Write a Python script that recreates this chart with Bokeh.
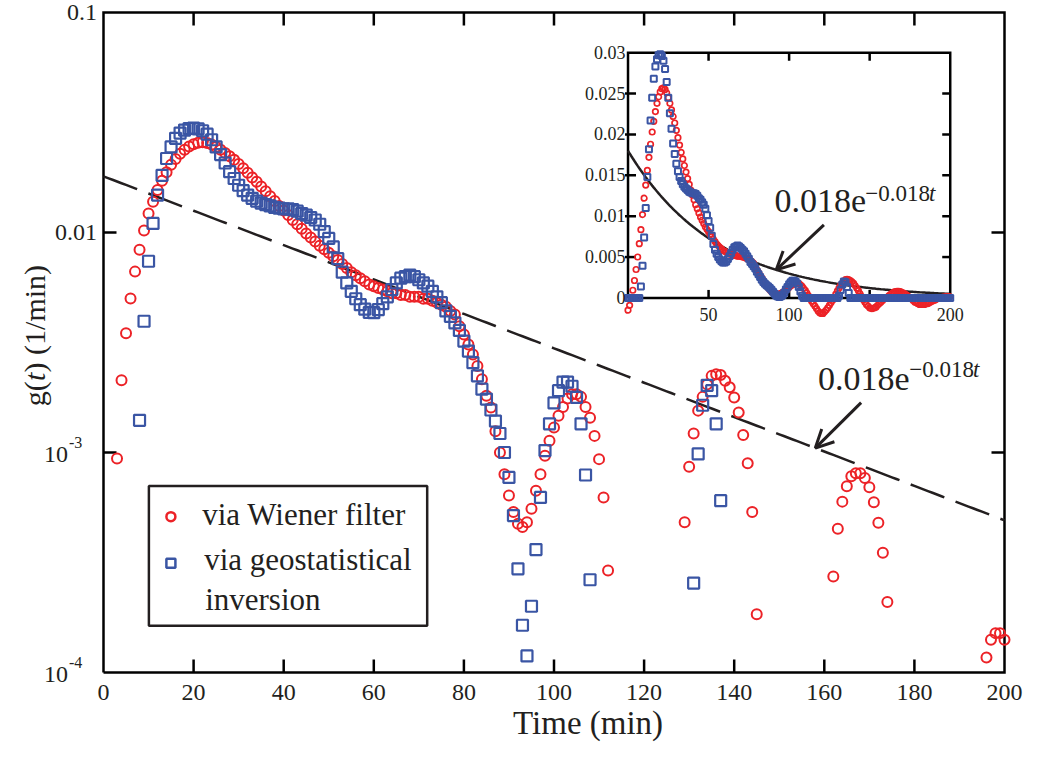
import numpy as np
from bokeh.plotting import figure
from bokeh.models import Range1d, LinearScale, LogScale, Label, Arrow, OpenHead, BoxAnnotation
from bokeh.embed import file_html
from bokeh.resources import INLINE

# ---------------- data ----------------
time_min = list(range(0, 201))

g_wiener = [
    -0.0015, -0.0009, 0.00008, 0.00094, 0.00213, 0.00348, 0.00501, 0.00664, 0.00835, 0.0102,
    0.0122, 0.0138, 0.0156, 0.0172, 0.0188, 0.0203, 0.0216, 0.0228, 0.0238, 0.0246,
    0.0252, 0.0256, 0.0257, 0.0255, 0.0251, 0.0245, 0.0238, 0.0230, 0.0222, 0.0214,
    0.0205, 0.0196, 0.0187, 0.0178, 0.0170, 0.0162, 0.0154, 0.0146, 0.0139, 0.0132,
    0.0126, 0.0120, 0.0114, 0.0109, 0.0104, 0.0099, 0.0095, 0.0091, 0.0087, 0.0084,
    0.0081, 0.0078, 0.0075, 0.0072, 0.0069, 0.0066, 0.0064, 0.0062, 0.0060, 0.0058,
    0.0057, 0.0056, 0.0055, 0.0054, 0.0053, 0.0053, 0.0052, 0.0052, 0.0051, 0.0051,
    0.0051, 0.0050, 0.0050, 0.0049, 0.0048, 0.0047, 0.0046, 0.0044, 0.00424, 0.00375,
    0.00344, 0.00310, 0.00279, 0.00247, 0.00215, 0.00181, 0.00160, 0.00125, 0.00100, 0.000797,
    0.000637, 0.000536, 0.000474, 0.000458, 0.000482, 0.000555, 0.00067, 0.000797, 0.000966, 0.00113,
    0.00130, 0.00147, 0.00161, 0.00176, 0.00184, 0.00184, 0.00179, 0.00161, 0.00144, 0.00119,
    0.000933, 0.000625, 0.000291, -0.0001, -0.0004, -0.0007, -0.0010, -0.0013, -0.0016, -0.0018,
    -0.0019, -0.0019, -0.0017, -0.0015, -0.0012, -0.0009, -0.0006, -0.0003, 0.00006, 0.000482,
    0.000861, 0.00122, 0.00155, 0.00179, 0.00204, 0.00223, 0.00227, 0.00225, 0.00212, 0.00198,
    0.00178, 0.00152, 0.00120, 0.000893, 0.000536, 0.000184, -0.0002, -0.0005, -0.0008, -0.0010,
    -0.0012, -0.0013, -0.0013, -0.0012, -0.0011, -0.0009, -0.0007, -0.0005, -0.0003, -0.0001,
    0.00002, 0.00008, 0.000273, 0.00045, 0.000598, 0.000702, 0.000779, 0.000804, 0.000804, 0.000765,
    0.000695, 0.000594, 0.000479, 0.00035, 0.000209, 0.00006, -0.0001, -0.0003, -0.0005, -0.0006,
    -0.0007, -0.0008, -0.0008, -0.0008, -0.0008, -0.0007, -0.0007, -0.0006, -0.0005, -0.0004,
    -0.0003, -0.0002, -0.0001, -0.00003, 0.00004, 0.00008, 0.000117, 0.000141, 0.000151, 0.000151,
    0.000141,
]

g_geostat = [
    0.0, 0.0, 0.0, 0.0, 0.0, 0.0, 0.0, 0.0, 0.0014, 0.00395,
    0.0074, 0.0110, 0.0148, 0.0182, 0.0217, 0.0245, 0.0268, 0.0283, 0.0292, 0.0297,
    0.0298, 0.0296, 0.0290, 0.0280, 0.0264, 0.0245, 0.0226, 0.0207, 0.0189, 0.0176,
    0.0164, 0.0155, 0.0148, 0.0143, 0.0139, 0.0136, 0.0134, 0.0132, 0.0130, 0.0129,
    0.0128, 0.0128, 0.0127, 0.0125, 0.0122, 0.0120, 0.0117, 0.0114, 0.0109, 0.0101,
    0.0094, 0.0086, 0.0076, 0.0066, 0.0059, 0.0054, 0.0050, 0.0047, 0.00448, 0.00433,
    0.00432, 0.00446, 0.00475, 0.0051, 0.0055, 0.0059, 0.0062, 0.0063, 0.0064, 0.0063,
    0.0061, 0.0059, 0.0057, 0.0054, 0.0051, 0.0048, 0.0044, 0.00416, 0.00388, 0.00359,
    0.00321, 0.00289, 0.00256, 0.00223, 0.00194, 0.00175, 0.00156, 0.00139, 0.00122, 0.00100,
    0.00077, 0.000517, 0.000296, 0.000164, 0.000119, 0.000200, 0.000362, 0.000625, 0.00102, 0.00135,
    0.00168, 0.00191, 0.00209, 0.00209, 0.00200, 0.00178, 0.00135, 0.00079, 0.000264, 0.0,
    0.0, 0.0, 0.0, 0.0, 0.0, 0.0, 0.0, 0.0, 0.0, 0.0,
    0.0, 0.0, 0.0, 0.0, 0.0, 0.0, 0.0, 0.0, 0.0, 0.0,
    0.0, 0.000255, 0.000985, 0.00164, 0.00202, 0.00191, 0.00135, 0.000604, 0.0, 0.0,
    0.0, 0.0, 0.0, 0.0, 0.0, 0.0, 0.0, 0.0, 0.0, 0.0,
    0.0, 0.0, 0.0, 0.0, 0.0, 0.0, 0.0, 0.0, 0.0, 0.0,
    0.0, 0.0, 0.0, 0.0, 0.0, 0.0, 0.0, 0.0, 0.0, 0.0,
    0.0, 0.0, 0.0, 0.0, 0.0, 0.0, 0.0, 0.0, 0.0, 0.0,
    0.0, 0.0, 0.0, 0.0, 0.0, 0.0, 0.0, 0.0, 0.0, 0.0,
    0.0, 0.0, 0.0, 0.0, 0.0, 0.0, 0.0, 0.0, 0.0, 0.0,
    0.0,
]

fit_amp = 0.018
fit_rate = 0.018
fit_label_main = "0.018e"
fit_label_exp = "\u22120.018"
fit_label_var = "t"

x_ticks = [0, 20, 40, 60, 80, 100, 120, 140, 160, 180, 200]
x_tick_labels = ["0", "20", "40", "60", "80", "100", "120", "140", "160", "180", "200"]
y_ticks = [1e-4, 1e-3, 1e-2, 1e-1]
y_decimal_ticks = [1e-2, 1e-1]
y_decimal_labels = ["0.01", "0.1"]
y_power_ticks = [1e-4, 1e-3]
y_power_exps = ["-4", "-3"]

inset_x_ticks = [50, 100, 150, 200]
inset_x_label_ticks = [50, 100, 200]
inset_x_labels = ["50", "100", "200"]
inset_y_ticks = [0, 0.005, 0.01, 0.015, 0.02, 0.025, 0.03]
inset_y_labels = ["0", "0.005", "0.01", "0.015", "0.02", "0.025", "0.03"]

legend_labels = ["via Wiener filter", "via geostatistical", "inversion"]

# ---------------- styling / layout (pixel geometry) ----------------
RED = "#EC2227"
BLUE = "#3A55A4"
INK = "#231F20"
FONT = "Liberation Serif"
BL_SHIFT = 0.36          # renderer draws alphabetic baselines ~0.36 em lower; compensate

W, H = 1024, 742

# reference layout (px) mapped onto this canvas
RFL, RFR, RFT, RFB = 105.0, 1018.0, 17.0, 679.0
FL, FR, FT, FB = 103.0, 1004.0, 12.0, 672.0


def RX(px):
    return FL + (px - RFL) * (FR - FL) / (RFR - RFL)


def RY(py):
    return FT + (py - RFT) * (FB - FT) / (RFB - RFT)


IL, IR, IT, I0 = RX(636.5), RX(963.0), RY(57.3), RY(303.3)   # inset box (I0 = y of zero)

X0, X1 = x_ticks[0], x_ticks[-1]
Y0, Y1 = y_ticks[0], y_ticks[-1]
PXM = (FR - FL) / (X1 - X0)
DEC = (FB - FT) / np.log10(Y1 / Y0)


def mx(px):
    return X0 + (px - FL) / PXM


def my(py):
    return Y1 * 10 ** (-(py - FT) / DEC)


def ypx(v):
    return FT + np.log10(Y1 / v) * DEC


def bmy(py, size):
    """data y for a text whose alphabetic baseline should sit at canvas py"""
    return my(py - BL_SHIFT * size)


IX1 = inset_x_ticks[-1]
IY1 = inset_y_ticks[-1]
SX = (IR - IL) / IX1
SY = (I0 - IT) / IY1


def ix(px):
    return (px - IL) / SX


def iy(py):
    return (I0 - py) / SY


def biy(py, size):
    return iy(py - BL_SHIFT * size)


p = figure(width=W, height=H, x_range=Range1d(mx(0), mx(W)), y_range=Range1d(my(H), my(0)),
           y_axis_type="log", x_axis_location=None, y_axis_location=None,
           output_backend="svg", toolbar_location=None,
           min_border_left=0, min_border_right=0, min_border_top=0, min_border_bottom=0,
           background_fill_color="white", border_fill_color="white")
p.y_scale = LogScale()
p.outline_line_color = None
p.grid.visible = False

p.extra_x_ranges = {"ix": Range1d(ix(0), ix(W))}
p.extra_y_ranges = {"iy": Range1d(iy(H), iy(0))}
p.extra_x_scales = {"ix": LinearScale()}
p.extra_y_scales = {"iy": LinearScale()}

LW = 2.5
TK = 13.0

# ---------------- main axes box, ticks, tick labels ----------------
p.line([X0, X1, X1, X0, X0], [Y0, Y0, Y1, Y1, Y0], line_color="black", line_width=LW,
       line_join="miter")
xt = np.array(x_ticks[1:-1], dtype=float)
p.segment(xt, np.full_like(xt, Y0), xt, np.full_like(xt, Y0 * 10 ** (TK / DEC)),
          line_color="black", line_width=LW)
p.segment(xt, np.full_like(xt, Y1), xt, np.full_like(xt, Y1 * 10 ** (-TK / DEC)),
          line_color="black", line_width=LW)
yt = np.array(y_ticks[1:-1], dtype=float)
p.segment(np.full_like(yt, X0), yt, np.full_like(yt, X0 + TK / PXM), yt,
          line_color="black", line_width=LW)
p.segment(np.full_like(yt, X1), yt, np.full_like(yt, X1 - TK / PXM), yt,
          line_color="black", line_width=LW)

for v, s in zip(x_ticks, x_tick_labels):
    p.add_layout(Label(x=v, y=bmy(RY(708), 24), text=s, text_align="center",
                       text_baseline="alphabetic", text_font=FONT,
                       text_font_size="24px", text_color=INK))

for v, s in zip(y_decimal_ticks, y_decimal_labels):
    p.add_layout(Label(x=mx(RX(98.5)), y=bmy(ypx(v) + 8.5, 24), text=s, text_align="right",
                       text_baseline="alphabetic", text_font=FONT, text_font_size="24px",
                       text_color=INK))
for v, s in zip(y_power_ticks, y_power_exps):
    p.add_layout(Label(x=mx(RX(69)), y=bmy(ypx(v) + 10.5, 24), text="10",
                       text_align="right", text_baseline="alphabetic", text_font=FONT,
                       text_font_size="24px", text_color=INK))
    p.add_layout(Label(x=mx(RX(70)), y=bmy(ypx(v) - 4, 16), text=s, text_align="left",
                       text_baseline="alphabetic", text_font=FONT, text_font_size="16px",
                       text_color=INK))

# axis titles
p.add_layout(Label(x=mx(RX(520)), y=bmy(734, 33), text="Time (min)", text_align="left",
                   text_baseline="alphabetic", text_font=FONT, text_font_size="33px",
                   text_color=INK))
ylab_x = mx(RX(46) - BL_SHIFT * 30)
for txt, start, style in [("g(", 412.0, "normal"), ("t", 386.5, "italic"),
                          (") (1/min)", 378.0, "normal")]:
    p.add_layout(Label(x=ylab_x, y=my(RY(start)), text=txt, angle=np.pi / 2,
                       text_align="left", text_baseline="alphabetic", text_font=FONT,
                       text_font_size="30px", text_font_style=style, text_color=INK))

# ---------------- main data ----------------
t_arr = np.array(time_min, dtype=float)
w_arr = np.array(g_wiener, dtype=float)
g_arr = np.array(g_geostat, dtype=float)
fit_arr = fit_amp * np.exp(-fit_rate * t_arr)

p.line(t_arr, fit_arr, line_color=INK, line_width=2.5, line_dash="36 12")

mw = w_arr >= Y0
p.scatter(t_arr[mw], w_arr[mw], marker="circle", size=10, fill_color=None,
          line_color=RED, line_width=2)
mg = g_arr >= Y0
p.scatter(t_arr[mg], g_arr[mg], marker="square", size=11, fill_color=None,
          line_color=BLUE, line_width=2.2)

# legend
p.add_layout(BoxAnnotation(left=mx(RX(151)), right=mx(RX(433)), top=my(RY(492)),
                           bottom=my(RY(632)), fill_color=None, line_color=INK,
                           line_alpha=1.0, line_width=2.5))
p.scatter([mx(RX(173.3))], [my(RY(522.7))], marker="circle", size=9, fill_color=None,
          line_color=RED, line_width=2.5)
p.scatter([mx(RX(173.3))], [my(RY(569.3))], marker="square", size=9, fill_color=None,
          line_color=BLUE, line_width=2.5)
for txt, lx, base in zip(legend_labels, [205, 207, 208], [532, 577, 617]):
    p.add_layout(Label(x=mx(RX(lx)), y=bmy(RY(base), 31), text=txt, text_align="left",
                       text_baseline="alphabetic", text_font=FONT, text_font_size="31px",
                       text_color=INK))

# main annotation
p.add_layout(Label(x=mx(RX(829)), y=bmy(RY(397), 34), text=fit_label_main,
                   text_baseline="alphabetic", text_font=FONT, text_font_size="34px",
                   text_color=INK))
p.add_layout(Label(x=mx(RX(921.5)), y=bmy(RY(383), 23), text=fit_label_exp,
                   text_baseline="alphabetic", text_font=FONT, text_font_size="23px",
                   text_color=INK))
p.add_layout(Label(x=mx(RX(986)), y=bmy(RY(383), 23), text=fit_label_var,
                   text_baseline="alphabetic", text_font=FONT, text_font_size="23px",
                   text_font_style="italic", text_color=INK))
t_hit = 158.0
p.add_layout(Arrow(x_start=mx(RX(872.7)), y_start=my(RY(408.3)), x_end=t_hit,
                   y_end=fit_amp * np.exp(-fit_rate * t_hit),
                   end=OpenHead(size=18, line_width=3, line_color=INK),
                   line_width=3, line_color=INK))

# ---------------- inset ----------------
R = dict(x_range_name="ix", y_range_name="iy")
p.line([0, IX1, IX1, 0, 0], [0, 0, IY1, IY1, 0], line_color="black", line_width=LW,
       line_join="miter", **R)
itk = 8.0
bx = np.array(inset_x_ticks[:-1], dtype=float)
p.segment(bx, np.zeros_like(bx), bx, np.full_like(bx, itk / SY), line_color="black",
          line_width=LW, **R)
p.segment(bx, np.full_like(bx, IY1), bx, np.full_like(bx, IY1 - itk / SY),
          line_color="black", line_width=LW, **R)
ly = np.array(inset_y_ticks[1:-1], dtype=float)
p.segment(np.full_like(ly, -3 / SX), ly, np.full_like(ly, itk / SX), ly,
          line_color="black", line_width=LW, **R)
p.segment(np.full_like(ly, IX1), ly, np.full_like(ly, IX1 - itk / SX), ly,
          line_color="black", line_width=LW, **R)

p.line(t_arr, fit_arr, line_color=INK, line_width=2.5, **R)
p.scatter(t_arr, w_arr, marker="circle", size=5.5, fill_color=None, line_color=RED,
          line_width=1.7, **R)
p.scatter(t_arr, g_arr, marker="square", size=6, fill_color=None, line_color=BLUE,
          line_width=2, **R)

for v, s in zip(inset_y_ticks, inset_y_labels):
    p.add_layout(Label(x=ix(RX(634)), y=biy(I0 - v * SY + 6, 18), text=s, text_align="right",
                       text_baseline="alphabetic", text_font=FONT, text_font_size="18px",
                       text_color=INK, **R))
for v, s in zip(inset_x_label_ticks, inset_x_labels):
    p.add_layout(Label(x=v, y=biy(RY(326), 18), text=s, text_align="center",
                       text_baseline="alphabetic", text_font=FONT, text_font_size="18px",
                       text_color=INK, **R))

p.add_layout(Label(x=ix(RX(785)), y=biy(RY(218), 34), text=fit_label_main,
                   text_baseline="alphabetic", text_font=FONT, text_font_size="34px",
                   text_color=INK, **R))
p.add_layout(Label(x=ix(RX(877)), y=biy(RY(207), 23), text=fit_label_exp,
                   text_baseline="alphabetic", text_font=FONT, text_font_size="23px",
                   text_color=INK, **R))
p.add_layout(Label(x=ix(RX(941.5)), y=biy(RY(207), 23), text=fit_label_var,
                   text_baseline="alphabetic", text_font=FONT, text_font_size="23px",
                   text_font_style="italic", text_color=INK, **R))
t_hit_in = 92.0
p.add_layout(Arrow(x_start=ix(RX(835)), y_start=iy(RY(230)), x_end=t_hit_in,
                   y_end=fit_amp * np.exp(-fit_rate * t_hit_in),
                   end=OpenHead(size=18, line_width=3, line_color=INK),
                   line_width=3, line_color=INK, **R))

open("out.html", "w").write(file_html(p, INLINE))
